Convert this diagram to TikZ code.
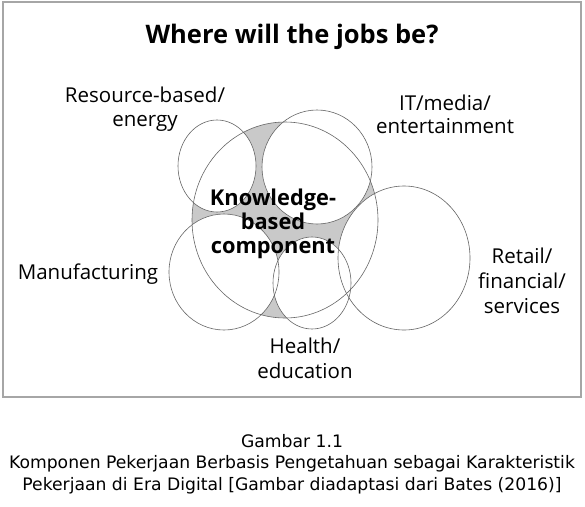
\documentclass[tikz,border=0pt]{standalone}
\usepackage{fontspec}
\setmainfont{Open Sans}
\newfontfamily\capfont{DejaVu Sans}
\begin{document}
\begin{tikzpicture}[x=1pt,y=-1pt]
\tikzset{
  outline/.style={draw=black!60, line width=0.6pt},
  lbl/.style={font=\fontsize{20.5}{24.5}\selectfont, align=center, inner sep=0pt, anchor=base},
  boldlbl/.style={font=\fontsize{21.8}{24}\selectfont\bfseries, align=center, inner sep=0pt, anchor=base},
}
\useasboundingbox[fill=white] (0,0) rectangle (585,506);
\draw[black!35, line width=1.3pt] (3,2) rectangle (581,397);
% knowledge-based core
\fill[black!21] (285,220) ellipse [x radius=93, y radius=98];
% sector circles (white)
\fill[white] (217,166) ellipse [x radius=39, y radius=46];
\fill[white] (317,167) ellipse [x radius=55, y radius=57];
\fill[white] (224,272) ellipse [x radius=55, y radius=58];
\fill[white] (312,283) ellipse [x radius=39, y radius=46];
\fill[white] (404,258) ellipse [x radius=66, y radius=72];
% outlines
\draw[outline] (285,220) ellipse [x radius=93, y radius=98];
\draw[outline] (217,166) ellipse [x radius=39, y radius=46];
\draw[outline] (317,167) ellipse [x radius=55, y radius=57];
\draw[outline] (224,272) ellipse [x radius=55, y radius=58];
\draw[outline] (312,283) ellipse [x radius=39, y radius=46];
\draw[outline] (404,258) ellipse [x radius=66, y radius=72];
% texts
\node (title) [font=\fontsize{25.5}{30}\selectfont\bfseries, inner sep=0pt, anchor=base] at (292,43) {Where will the jobs be?};
\node (res) [lbl, font=\fontsize{20.5}{24}\selectfont] at (145,126) {Resource-based/\\energy};
\node (it) [lbl, font=\fontsize{20.5}{23}\selectfont] at (445,133) {IT/media/\\entertainment};
\node (man) [lbl] at (88,279) {Manufacturing};
\node (ret) [lbl, font=\fontsize{20.5}{25}\selectfont] at (522,313) {Retail/\\financial/\\services};
\node (hea) [lbl, font=\fontsize{20.5}{25}\selectfont] at (305,378) {Health/\\education};
\node (kno) [boldlbl] at (273,253) {Knowledge-\\based\\component};
\node (cap) [font=\capfont\fontsize{17.2}{21.5}\selectfont, align=center, inner sep=0pt, anchor=base] at (292,490) {Gambar 1.1\\Komponen Pekerjaan Berbasis Pengetahuan sebagai Karakteristik\\Pekerjaan di Era Digital [Gambar diadaptasi dari Bates (2016)]};
\end{tikzpicture}
\end{document}
